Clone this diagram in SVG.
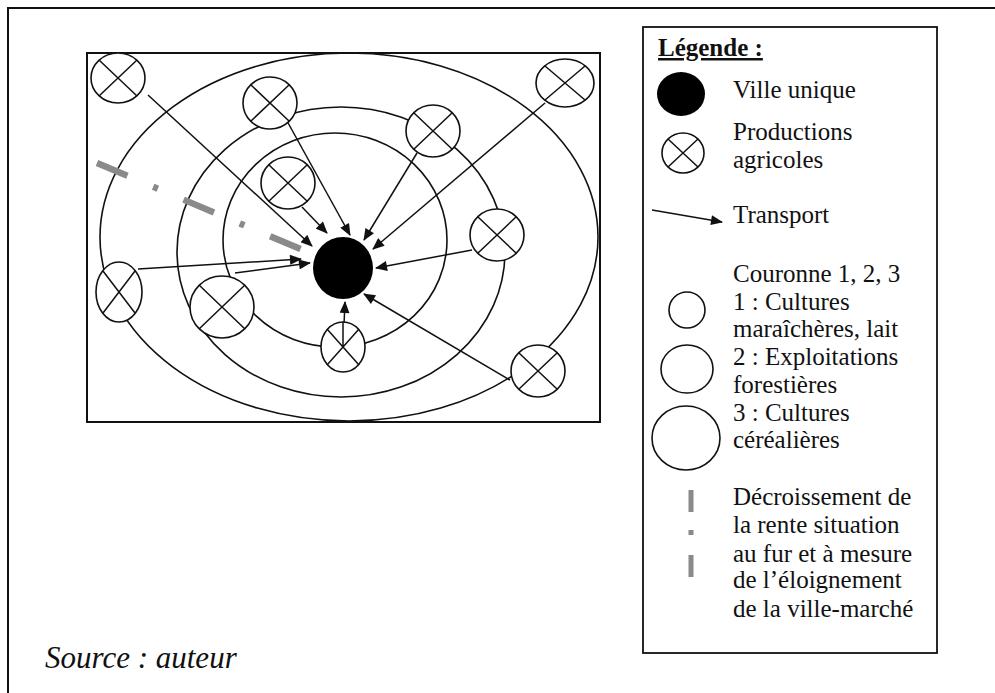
<svg xmlns="http://www.w3.org/2000/svg" width="995" height="693" viewBox="0 0 995 693">
<style>
.t{font-family:"Liberation Serif","Times New Roman",serif;font-size:25px;fill:#111}
.src{font-size:31px;font-style:italic}
.ring{fill:none;stroke:#111;stroke-width:1.6}
.prod ellipse{fill:#fff;stroke:#111;stroke-width:1.6}
.prod path{fill:none;stroke:#111;stroke-width:1.5}
.arr{stroke:#111;stroke-width:1.5;fill:none;marker-end:url(#ah)}
.gray{stroke:#8a8a8a;fill:none}
</style>
<defs>
<marker id="ah" viewBox="0 0 12 10" refX="11" refY="5" markerWidth="13" markerHeight="10" markerUnits="userSpaceOnUse" orient="auto">
<path d="M0,0 L12,5 L0,10 Z" fill="#111"/>
</marker>
<clipPath id="mapclip"><rect x="87" y="53" width="513" height="369"/></clipPath>
</defs>
<rect width="995" height="693" fill="#fff"/>
<path d="M8,693 V8 H995" fill="none" stroke="#111" stroke-width="2"/>

<g id="map">
<rect x="87" y="53" width="513" height="369" fill="#fff" stroke="#111" stroke-width="2"/>
<g id="rings" clip-path="url(#mapclip)">
<ellipse class="ring" cx="349" cy="237" rx="249" ry="184"/>
<ellipse class="ring" cx="341" cy="252" rx="164" ry="145"/>
<ellipse class="ring" cx="335" cy="240" rx="112" ry="107"/>
</g>
<line class="gray" x1="97" y1="163" x2="305" y2="251" stroke-width="6.5" stroke-dasharray="33 28 5 28"/>
</g>

<g id="connectors">
<line class="arr" x1="148" y1="95" x2="312" y2="246"/>
<line class="arr" x1="287" y1="121" x2="350" y2="235"/>
<line class="arr" x1="302" y1="207" x2="327" y2="233"/>
<line class="arr" x1="417" y1="153" x2="364" y2="240"/>
<line class="arr" x1="545" y1="103" x2="373" y2="249"/>
<line class="arr" x1="472" y1="250" x2="376" y2="268"/>
<line class="arr" x1="510" y1="380" x2="364" y2="294"/>
<line class="arr" x1="343" y1="347" x2="345" y2="302"/>
<line class="arr" x1="235" y1="273" x2="310" y2="263"/>
<line class="arr" x1="138" y1="269" x2="301" y2="259"/>
</g>

<g id="ville"><ellipse cx="343" cy="268" rx="30" ry="31" fill="#000"/></g>

<g id="p1" class="prod"><ellipse cx="118" cy="78" rx="27" ry="25"/><path d="M99,60 L137,96 M137,60 L99,96"/></g>
<g id="p2" class="prod"><ellipse cx="270" cy="103" rx="27" ry="26"/><path d="M251,85 L289,121 M289,85 L251,121"/></g>
<g id="p3" class="prod"><ellipse cx="288" cy="183" rx="27" ry="26"/><path d="M269,165 L307,201 M307,165 L269,201"/></g>
<g id="p4" class="prod"><ellipse cx="433" cy="131" rx="27" ry="26"/><path d="M414,113 L452,149 M452,113 L414,149"/></g>
<g id="p5" class="prod"><ellipse cx="565" cy="83" rx="29" ry="24"/><path d="M545,66 L585,100 M585,66 L545,100"/></g>
<g id="p6" class="prod"><ellipse cx="497" cy="235" rx="27" ry="26"/><path d="M478,217 L516,253 M516,217 L478,253"/></g>
<g id="p7" class="prod"><ellipse cx="538" cy="371" rx="27" ry="26"/><path d="M519,353 L557,389 M557,353 L519,389"/></g>
<g id="p8" class="prod"><ellipse cx="343" cy="347" rx="22" ry="25"/><path d="M327,329 L359,365 M359,329 L327,365 M343,322 L343,347"/></g>
<g id="p9" class="prod"><ellipse cx="222" cy="307" rx="32" ry="31"/><path d="M199,285 L245,329 M245,285 L199,329"/></g>
<g id="p10" class="prod"><ellipse cx="119" cy="292" rx="23" ry="30"/><path d="M103,271 L135,313 M135,271 L103,313"/></g>

<g id="legende">
<rect x="643" y="27" width="294" height="626" fill="#fff" stroke="#111" stroke-width="1.8"/>
<text class="t" x="658" y="56" font-weight="bold" text-decoration="underline">Légende :</text>
<ellipse cx="681" cy="94" rx="24" ry="22" fill="#000"/>
<text class="t" x="733" y="98">Ville unique</text>
<g class="prod"><ellipse cx="683" cy="153" rx="21" ry="20"/><path d="M668,139 L698,167 M698,139 L668,167"/></g>
<text class="t" x="733" y="140">Productions</text>
<text class="t" x="733" y="168">agricoles</text>
<line class="arr" x1="652" y1="210" x2="722" y2="222"/>
<text class="t" x="733" y="223">Transport</text>
<ellipse class="ring" cx="687" cy="310" rx="18" ry="18"/>
<ellipse class="ring" cx="687" cy="369" rx="26" ry="24"/>
<ellipse class="ring" cx="686" cy="438" rx="34" ry="32"/>
<text class="t" x="733" y="282">Couronne 1, 2, 3</text>
<text class="t" x="733" y="310">1 : Cultures</text>
<text class="t" x="733" y="337">maraîchères, lait</text>
<text class="t" x="733" y="365">2 : Exploitations</text>
<text class="t" x="733" y="393">forestières</text>
<text class="t" x="733" y="421">3 : Cultures</text>
<text class="t" x="733" y="448">céréalières</text>
<line class="gray" x1="691" y1="490" x2="691" y2="577" stroke-width="5" stroke-dasharray="22 18 5 20"/>
<text class="t" x="733" y="505">Décroissement de</text>
<text class="t" x="733" y="533">la rente situation</text>
<text class="t" x="733" y="562">au fur et à mesure</text>
<text class="t" x="733" y="588">de l’éloignement</text>
<text class="t" x="733" y="617">de la ville-marché</text>
</g>

<text class="t src" x="45" y="668">Source : auteur</text>
</svg>
